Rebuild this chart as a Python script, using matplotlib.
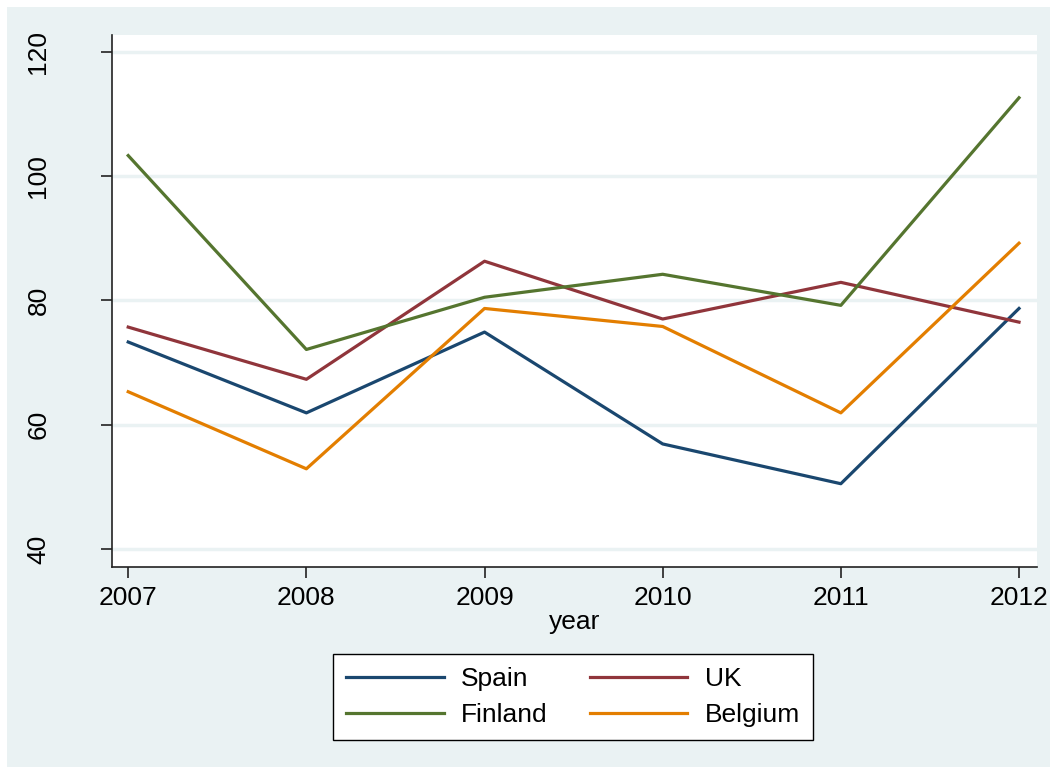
import matplotlib.pyplot as plt
from matplotlib.patches import Rectangle

plt.rcParams['font.family'] = ['Liberation Sans', 'DejaVu Sans']

years = [2007, 2008, 2009, 2010, 2011, 2012]
spain = [73.3, 61.9, 74.9, 56.9, 50.5, 78.7]
uk = [75.7, 67.3, 86.3, 77.0, 82.9, 76.5]
finland = [103.3, 72.1, 80.5, 84.2, 79.2, 112.6]
belgium = [65.3, 52.9, 78.7, 75.8, 61.9, 89.2]

bg = '#eaf2f3'

fig = plt.figure(figsize=(10.58, 7.74), dpi=100)
fig.patch.set_facecolor('white')
fig.patches.append(Rectangle((7/1058, 1 - 767/774), 1043/1058, 760/774,
                             transform=fig.transFigure, facecolor=bg,
                             edgecolor='none', zorder=-10))

ax = fig.add_axes([112/1058, 1 - 567/774, 925/1058, 532/774])
ax.set_facecolor('white')

l_sp, = ax.plot(years, spain, color='#1a476f', lw=2.3, label='Spain')
l_uk, = ax.plot(years, uk, color='#90353b', lw=2.3, label='UK')
l_fi, = ax.plot(years, finland, color='#55752f', lw=2.3, label='Finland')
l_be, = ax.plot(years, belgium, color='#e37e00', lw=2.3, label='Belgium')

ax.set_xlim(2006.909, 2012.101)
ax.set_ylim(37.1, 122.7)
ax.set_xticks(years)
ax.set_yticks([40, 60, 80, 100, 120])
ax.yaxis.grid(True, color=bg, lw=2.5)
ax.set_axisbelow(True)

for s in ['top', 'right']:
    ax.spines[s].set_visible(False)
for s in ['left', 'bottom']:
    ax.spines[s].set_color('#222222')
    ax.spines[s].set_linewidth(1.2)

ax.tick_params(axis='both', length=8, width=1.2, color='#222222', labelsize=19)
ax.tick_params(axis='x', pad=6)
ax.tick_params(axis='y', pad=45)
for lab in ax.get_yticklabels():
    lab.set_rotation(90)
    lab.set_va('center')
    lab.set_ha('center')

ax.set_xlabel('year', fontsize=19, labelpad=0)

# ncol=2 fills column-wise, so order handles to get rows Spain/UK, Finland/Belgium
leg = fig.legend([l_sp, l_fi, l_uk, l_be], ['Spain', 'Finland', 'UK', 'Belgium'],
                 loc='center', bbox_to_anchor=(573/1058, 1 - 697/774), ncol=2,
                 fontsize=19, frameon=True, fancybox=False, handlelength=3.7,
                 columnspacing=1.6, handletextpad=0.65, labelspacing=0.45,
                 borderpad=0.5, framealpha=1)
leg.get_frame().set_edgecolor('black')
leg.get_frame().set_facecolor('white')
leg.get_frame().set_linewidth(1.0)

fig.savefig('out.png', dpi=100, facecolor='white')
